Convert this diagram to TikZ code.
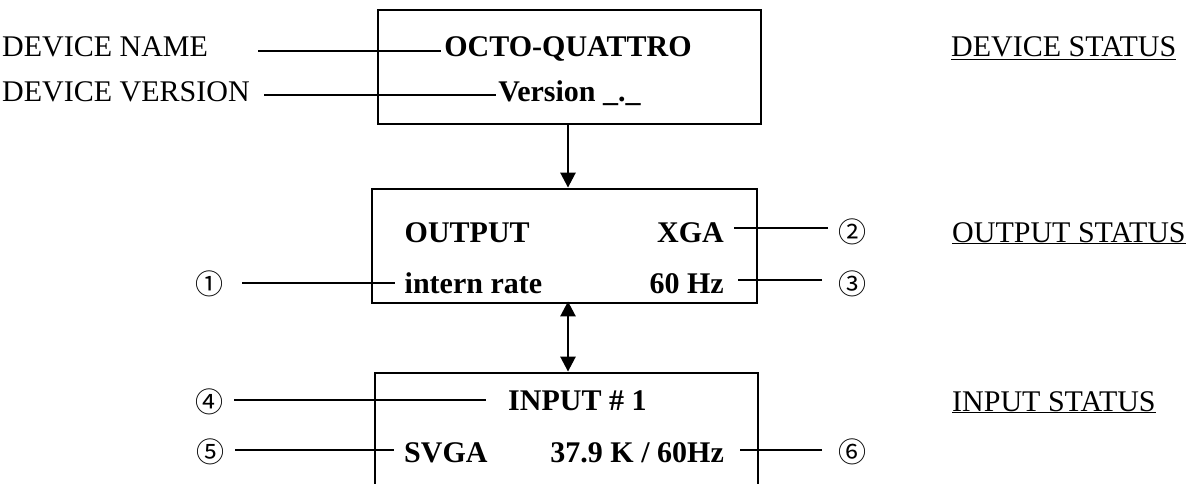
\documentclass[tikz,border=0pt]{standalone}
\usepackage{fontspec}
\setmainfont{Liberation Serif}
\newfontfamily\circfont{Noto Sans CJK JP}
\usetikzlibrary{arrows.meta}

\begin{document}
\begin{tikzpicture}[x=1pt,y=-1pt,
    >={Triangle[length=15pt,width=15pt]},
    every node/.style={inner sep=0pt, font=\fontsize{30}{35}\selectfont},
    val/.style={font=\fontsize{30}{35}\selectfont\bfseries},
    num/.style={font=\fontsize{28}{32}\selectfont\circfont},
    panel/.style={draw, line width=2.8pt, minimum width=383pt, minimum height=114pt},
    lead/.style={line width=2.8pt},
    link/.style={line width=2.6pt}]
    \clip (0,0) rectangle (1189,484);

    % the three display panels
    \node[panel] (dev) at (569.5,67) {};
    \node[panel, minimum width=385pt] (out) at (564.5,246) {};
    \node[panel, minimum height=160pt] (inp) at (566.5,453) {};

    % captions
    \node[anchor=base west] (dname) at (2,57) {DEVICE NAME};
    \node[anchor=base west] (dver) at (2,101.7) {DEVICE VERSION};
    \node[anchor=base west] (dstat) at (951,57) {\underline{DEVICE STATUS}};
    \node[anchor=base west] (ostat) at (952,242) {\underline{OUTPUT STATUS}};
    \node[anchor=base west] (istat) at (952,411) {\underline{INPUT STATUS}};

    % panel contents
    \node[val, anchor=base] (octo) at (568,57) {OCTO-QUATTRO};
    \node[val, anchor=base] (ver) at (569.5,101.7) {Version \_.\_};
    \node[val, anchor=base west] (output) at (404.5,242) {OUTPUT};
    \node[val, anchor=base east] (xga) at (724,242) {XGA};
    \node[val, anchor=base west] (intern) at (404.5,293) {intern rate};
    \node[val, anchor=base east] (hz) at (724,293) {60 Hz};
    \node[val, anchor=base west] (input) at (508,410) {INPUT \# 1};
    \node[val, anchor=base west] (svga) at (404,462) {SVGA};
    \node[val, anchor=base east] (rate) at (724,462) {37.9 K / 60Hz};

    % markers
    \node[num] (n1) at (209,283.5) {①};
    \node[num] (n2) at (852,232) {②};
    \node[num] (n3) at (852,284) {③};
    \node[num] (n4) at (209,402) {④};
    \node[num] (n5) at (210,452) {⑤};
    \node[num] (n6) at (852,452) {⑥};

    % leader lines
    \coordinate (dn-a) at (258,51);
    \coordinate (dv-a) at (264,95);
    \coordinate (n1-a) at (242,283);
    \coordinate (n2-a) at (828,228);
    \coordinate (n3-a) at (822,280);
    \coordinate (n4-a) at (234,400);
    \coordinate (n5-a) at (235,450);
    \coordinate (n6-a) at (822,450);
    \draw[lead, shorten >=3pt] (dn-a) -- (dn-a -| octo.west);
    \draw[lead, shorten >=2pt] (dv-a) -- (dv-a -| ver.west);
    \draw[lead, shorten >=9.5pt] (n1-a) -- (n1-a -| intern.west);
    \draw[lead, shorten >=10pt] (n2-a) -- (n2-a -| xga.east);
    \draw[lead, shorten >=14pt] (n3-a) -- (n3-a -| hz.east);
    \draw[lead, shorten >=22pt] (n4-a) -- (n4-a -| input.west);
    \draw[lead, shorten >=10pt] (n5-a) -- (n5-a -| svga.west);
    \draw[lead, shorten >=16pt] (n6-a) -- (n6-a -| rate.east);

    % flow between panels
    \coordinate (mid) at (568,0);
    \draw[link, ->] (dev.south -| mid) -- (out.north -| mid);
    \draw[link, <->] ([yshift=3pt]out.south -| mid) -- (inp.north -| mid);
\end{tikzpicture}
\end{document}
